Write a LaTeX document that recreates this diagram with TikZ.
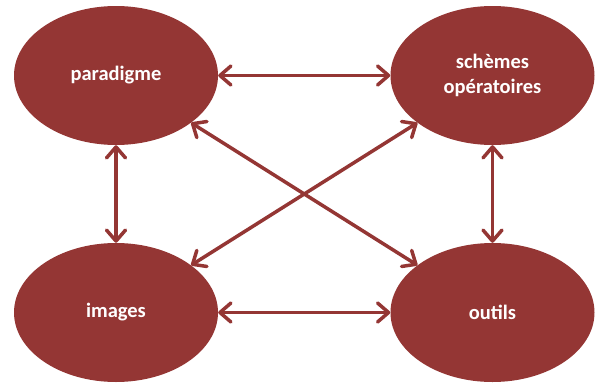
\documentclass[tikz,border=0pt]{standalone}
\usepackage{fontspec}
\setmainfont{Carlito}
\usetikzlibrary{shapes.geometric,arrows.meta}
\definecolor{brick}{HTML}{943634}
\tikzset{
  bubble/.style={ellipse, fill=brick, draw=none, minimum width=204pt, minimum height=139pt, inner sep=0pt,
    text=white, font=\fontsize{20.5}{24.5}\selectfont\bfseries, align=center},
  link/.style={draw=brick, line width=3.5pt, {Straight Barb[length=11pt,width=19pt,round]}-{Straight Barb[length=11pt,width=19pt,round]}}
}
\begin{document}
\begin{tikzpicture}[x=1pt,y=-1pt]
\useasboundingbox (0,0) rectangle (597,383);
\node[bubble] (p) at (116,75.5) {paradigme};
\node[bubble] (s) at (492.5,75.5) {schèmes\\opératoires};
\node[bubble] (i) at (116,312.5) {images};
\node[bubble] (o) at (492.5,312.5) {outils};
\draw[link] (p) -- (s);
\draw[link] (i) -- (o);
\draw[link] (p) -- (i);
\draw[link] (s) -- (o);
\draw[link] (p) -- (o);
\draw[link] (i) -- (s);
\end{tikzpicture}
\end{document}
